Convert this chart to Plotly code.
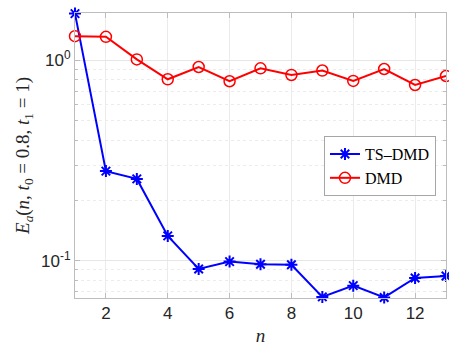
import plotly.graph_objects as go

n = list(range(1, 14))
ts_dmd = [1.71, 0.28, 0.256, 0.133, 0.091, 0.099, 0.096, 0.0955, 0.066, 0.0751, 0.0656, 0.082, 0.0839]
dmd = [1.32, 1.31, 1.01, 0.804, 0.926, 0.786, 0.912, 0.845, 0.889, 0.789, 0.905, 0.753, 0.835]

y_major = [0.1, 1]
y_major_text = ["10<sup>-1</sup>", "10<sup>0</sup>"]
y_minor = [0.07, 0.08, 0.09, 0.2, 0.3, 0.4, 0.5, 0.6, 0.7, 0.8, 0.9]
x_ticks = [2, 4, 6, 8, 10, 12]

fig = go.Figure()
fig.add_trace(go.Scatter(
    x=n, y=ts_dmd, name="TS\u2013DMD", mode="lines+markers",
    line=dict(color="#0000ff", width=2),
    marker=dict(symbol="asterisk-open", size=10, line=dict(color="#0000ff", width=2)),
    cliponaxis=False,
))
fig.add_trace(go.Scatter(
    x=n, y=dmd, name="DMD", mode="lines+markers",
    line=dict(color="#ff0000", width=2),
    marker=dict(symbol="circle-open", size=11, line=dict(color="#ff0000", width=1.5)),
    cliponaxis=False,
))

axis_color = "#bdbdbd"
fig.update_layout(
    width=449, height=347,
    margin=dict(l=75, r=3, t=13, b=49),
    paper_bgcolor="white", plot_bgcolor="white",
    font=dict(family="Liberation Sans, Arial, sans-serif", size=17, color="#262626"),
    showlegend=True,
    legend=dict(
        x=0.973, y=0.568, xanchor="right", yanchor="top",
        bgcolor="white", bordercolor="#a6a6a6", borderwidth=1,
        font=dict(family="Liberation Serif, Times New Roman, serif", size=16, color="#000000"),
        tracegroupgap=0, itemwidth=30,
    ),
    xaxis=dict(
        range=[1, 13], tickvals=x_ticks, ticks="inside", ticklen=5,
        tickcolor=axis_color, showline=True, linecolor=axis_color, linewidth=1,
        mirror="ticks", showgrid=True, gridcolor="#ebebeb", zeroline=False,
        title=dict(text="<i>n</i>", font=dict(family="Liberation Serif, Times New Roman, serif", size=19), standoff=6),
    ),
    yaxis=dict(
        type="log", range=[-1.186, 0.236],
        tickvals=y_major, ticktext=y_major_text, ticks="inside", ticklen=5,
        tickcolor=axis_color, showline=True, linecolor=axis_color, linewidth=1,
        mirror="ticks", showgrid=True, gridcolor="#e6e6e6", zeroline=False,
        minor=dict(tickvals=y_minor, ticks="inside", ticklen=3, tickcolor=axis_color,
                   showgrid=True, gridcolor="#ececec", griddash="dot"),
        title=dict(text="<i>E</i><sub><i>a</i></sub>(<i>n</i>, <i>t</i><sub>0</sub> = 0.8, <i>t</i><sub>1</sub> = 1)",
                   font=dict(family="Liberation Serif, Times New Roman, serif", size=19), standoff=6),
    ),
)

fig.write_html("out.html")
